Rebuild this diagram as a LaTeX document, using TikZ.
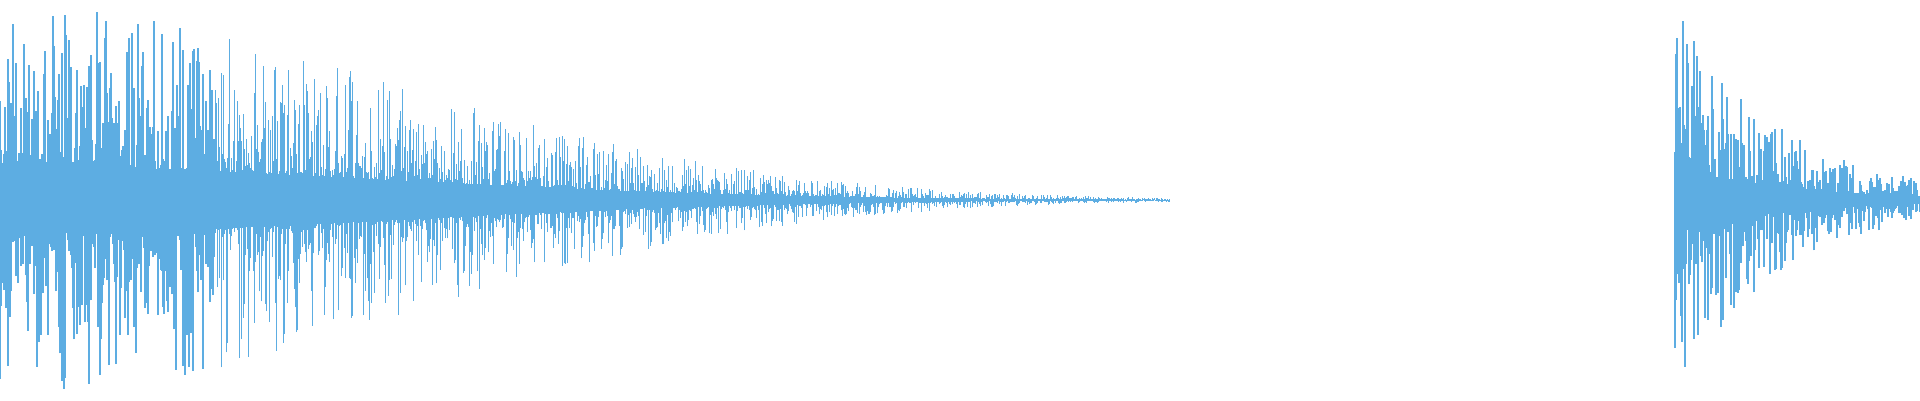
\documentclass[tikz,border=0pt]{standalone}
\definecolor{wavecol}{RGB}{93,173,226}
\begin{document}
\begin{tikzpicture}
  \tikzset{wave/.style={draw=wavecol,line width=0.35pt}}
  \useasboundingbox (0,0) rectangle (19.2,4);
  \pgfmathsetseed{11}
  % first burst, decaying
  \foreach \i in {0,...,1170}{
    \pgfmathsetmacro\x{\i*0.01}
    \pgfmathsetmacro\a{1.97*exp(-(\x/5.5)^2)}
    \pgfmathsetmacro\u{\a*(0.17+0.83*rnd^2.2)}
    \pgfmathsetmacro\d{\a*(0.17+0.83*rnd^2.2)}
    \draw[wave] (\x,{2-\d}) -- (\x,{2+\u});
  }
  % second burst
  \foreach \i in {0,...,245}{
    \pgfmathsetmacro\x{16.75+\i*0.01}
    \pgfmathsetmacro\a{1.95*exp(-\i*0.01/1.1)}
    \pgfmathsetmacro\u{\a*(0.17+0.83*rnd^2.2)}
    \pgfmathsetmacro\d{\a*(0.17+0.83*rnd^2.2)}
    \draw[wave] (\x,{2-\d}) -- (\x,{2+\u});
  }
\end{tikzpicture}
\end{document}
